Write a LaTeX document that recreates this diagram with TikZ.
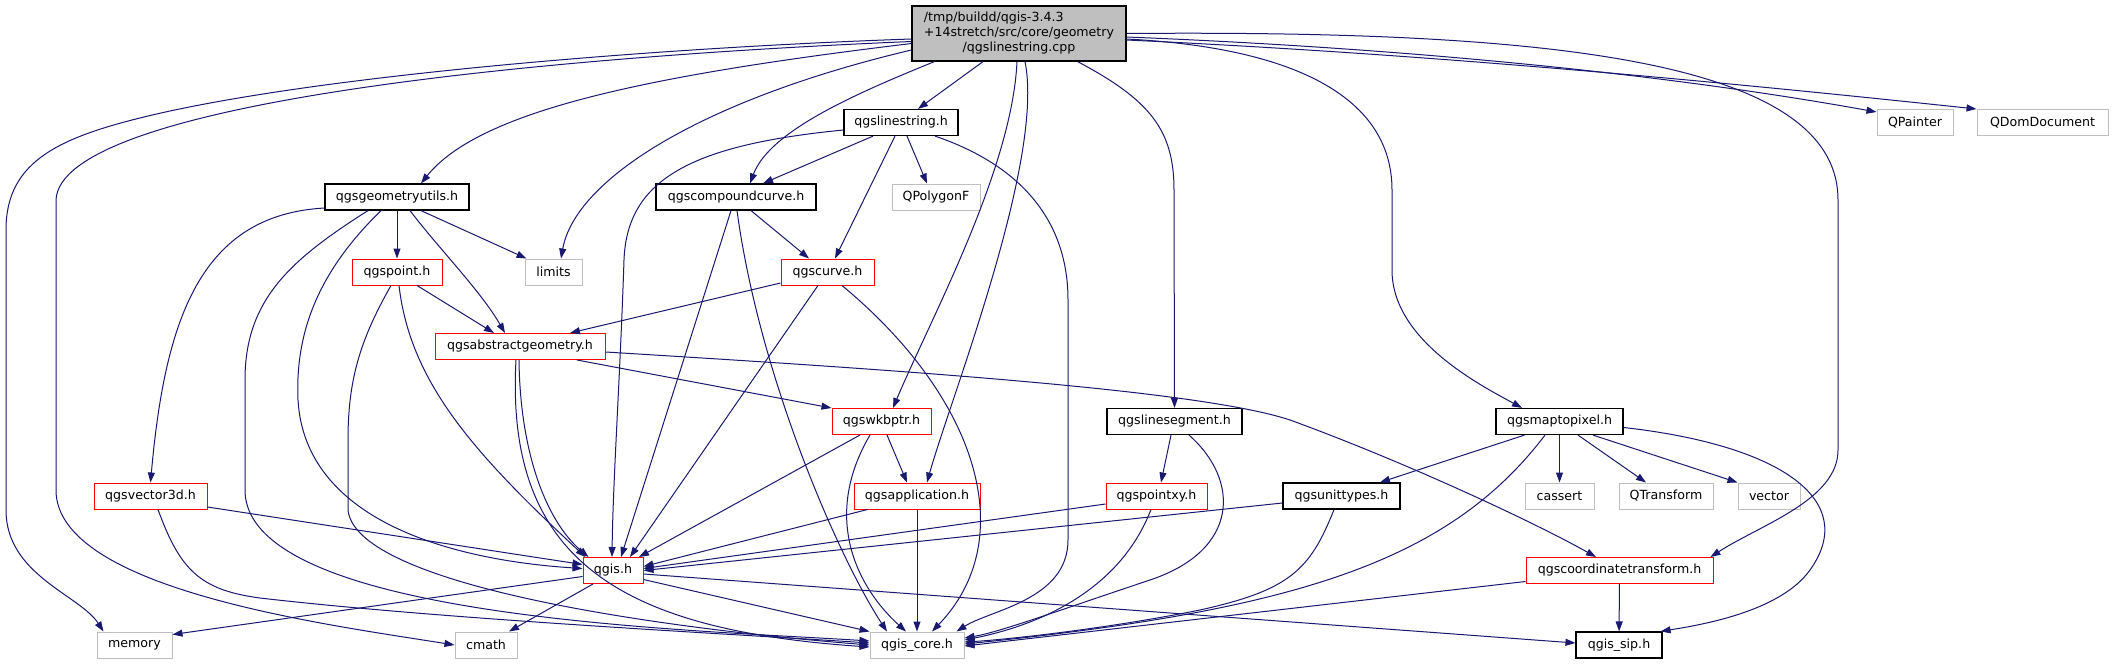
\documentclass[tikz,border=0pt]{standalone}
\usepackage{fontspec}
\setmainfont{DejaVu Sans}
\usetikzlibrary{arrows.meta}
\definecolor{edgeblue}{RGB}{25,25,112}
\definecolor{headred}{RGB}{255,0,0}
\definecolor{sysgrey}{RGB}{191,191,191}

\begin{document}
\begin{tikzpicture}[x=1pt, y=-1pt,
  box/.style={draw=black, fill=white, line width=1.2pt, minimum height=26pt,
    inner sep=0pt, font=\fontsize{12.6pt}{15pt}\selectfont},
  redbox/.style={box, draw=headred, line width=1pt},
  sysbox/.style={box, draw=sysgrey, line width=1pt},
  rootbox/.style={box, fill=sysgrey, minimum width=214pt, minimum height=55pt},
  arr/.style={-{Triangle[length=10pt,width=7pt]}, edgeblue, line width=1pt}
]
  \path[use as bounding box, fill=white] (0,0) rectangle (2113,664);

  \node[rootbox] (root) at (1019,33.5) {\begin{tabular}{@{}l@{}}/tmp/buildd/qgis-3.4.3\\+14stretch/src/core/geometry\\\multicolumn{1}{@{}c@{}}{/qgslinestring.cpp}\end{tabular}};
  \node[box, minimum width=114pt] (linestringh) at (901,122.5) {qgslinestring.h};
  \node[sysbox, minimum width=76pt] (painter) at (1915,122.5) {QPainter};
  \node[sysbox, minimum width=131pt] (domdoc) at (2042.5,122.5) {QDomDocument};
  \node[box, minimum width=144pt] (geomutils) at (397,197) {qgsgeometryutils.h};
  \node[box, minimum width=160pt] (compound) at (736,197) {qgscompoundcurve.h};
  \node[sysbox, minimum width=88pt] (polygonf) at (936,197) {QPolygonF};
  \node[redbox, minimum width=90pt] (point) at (397,272) {qgspoint.h};
  \node[sysbox, minimum width=57pt] (limits) at (553.5,272) {limits};
  \node[redbox, minimum width=93pt] (curve) at (827.5,272) {qgscurve.h};
  \node[redbox, minimum width=170pt] (abstractgeom) at (520,346.5) {qgsabstractgeometry.h};
  \node[redbox, minimum width=99pt] (wkbptr) at (881.5,421.5) {qgswkbptr.h};
  \node[box, minimum width=135pt] (linesegment) at (1174.5,421.5) {qgslinesegment.h};
  \node[box, minimum width=127pt] (maptopixel) at (1559.5,421.5) {qgsmaptopixel.h};
  \node[redbox, minimum width=113pt] (vector3d) at (150.5,496) {qgsvector3d.h};
  \node[redbox, minimum width=126pt] (application) at (917,496) {qgsapplication.h};
  \node[redbox, minimum width=101pt] (pointxy) at (1156.5,496) {qgspointxy.h};
  \node[box, minimum width=117pt] (unittypes) at (1341.5,496) {qgsunittypes.h};
  \node[sysbox, minimum width=69pt] (cassert) at (1559.5,496) {cassert};
  \node[sysbox, minimum width=94pt] (qtransform) at (1666,496) {QTransform};
  \node[sysbox, minimum width=62pt] (vectorh) at (1769,496) {vector};
  \node[redbox, minimum width=60pt] (qgish) at (613,570.5) {qgis.h};
  \node[redbox, minimum width=187pt] (coordtransform) at (1619.5,570.5) {qgscoordinatetransform.h};
  \node[sysbox, minimum width=75pt] (memory) at (134.5,645) {memory};
  \node[sysbox, minimum width=62pt] (cmath) at (486,645) {cmath};
  \node[sysbox, minimum width=94pt] (qgiscore) at (917,645) {qgis\_core.h};
  \node[box, minimum width=86pt] (qgissip) at (1619,645) {qgis\_sip.h};

  \draw[arr] ([yshift=-5.5pt]root.west) .. controls (650,48) and (330,75) .. (161,113) .. controls (60,136) and (6,160) .. (6,230) -- (6,510) .. controls (6,575) and (80,595) .. ([xshift=7pt]memory.north west);
  \draw[arr] ([yshift=-8pt]root.west) .. controls (520,58) and (60,105) .. (56,200) -- (56,490) .. controls (56,590) and (330,625) .. (cmath.west);
  \draw[arr] ([yshift=-10pt]root.west) .. controls (650,75) and (480,110) .. ([xshift=24pt]geomutils.north);
  \draw[arr] ([yshift=-16.5pt]root.west) .. controls (700,100) and (575,180) .. ([xshift=7.5pt]limits.north);
  \draw[arr] ([xshift=23pt]root.south west) .. controls (860,92) and (770,130) .. ([xshift=14pt]compound.north);
  \draw[arr] ([xshift=-36pt]root.south) -- ([xshift=17pt]linestringh.north);
  \draw[arr] ([xshift=-2pt]root.south) .. controls (1012,170) and (930,320) .. ([xshift=11.5pt]wkbptr.north);
  \draw[arr] ([xshift=6pt]root.south) .. controls (1045,160) and (950,400) .. ([xshift=10pt]application.north);
  \draw[arr] ([xshift=-49pt]root.south east) .. controls (1150,100) and (1174,130) .. (1174,190) -- (linesegment.north);
  \draw[arr] ([yshift=-5.5pt]root.east) .. controls (1300,48) and (1392,100) .. (1392,190) -- (1392,270) .. controls (1392,340) and (1480,385) .. ([xshift=-37.5pt]maptopixel.north);
  \draw[arr] (root.east) .. controls (1550,30) and (1838,60) .. (1838,200) -- (1838,450) .. controls (1838,500) and (1760,525) .. ([xshift=-3pt]coordtransform.north east);
  \draw[arr] ([yshift=-3.5pt]root.east) .. controls (1450,50) and (1700,80) .. ([yshift=-3pt]painter.north west);
  \draw[arr] ([yshift=-6.5pt]root.east) .. controls (1450,55) and (1750,85) .. (domdoc.north west);

  \draw[arr] ([xshift=-28pt]linestringh.south) -- ([xshift=27pt]compound.north);
  \draw[arr] ([yshift=-7.5pt]linestringh.west) .. controls (690,145) and (627,180) .. (624,260) .. controls (620,380) and (613,480) .. ([xshift=-1pt]qgish.north);
  \draw[arr] ([xshift=-6pt]linestringh.south) -- ([xshift=7.5pt]curve.north);
  \draw[arr] ([xshift=6pt]linestringh.south) -- ([xshift=-9pt]polygonf.north);
  \draw[arr] ([xshift=34pt]linestringh.south) .. controls (1020,165) and (1068,220) .. (1068,300) -- (1068,540) .. controls (1068,600) and (990,610) .. ([xshift=-8pt]qgiscore.north east);

  \draw[arr] ([yshift=-11pt]geomutils.west) .. controls (200,215) and (165,320) .. (vector3d.north);
  \draw[arr] ([xshift=-29pt]geomutils.south) .. controls (290,260) and (245,300) .. (245,380) -- (245,490) .. controls (245,620) and (700,630) .. ([yshift=4pt]qgiscore.west);
  \draw[arr] ([xshift=-16pt]geomutils.south) .. controls (320,270) and (295,330) .. (298,400) .. controls (305,520) and (450,560) .. ([yshift=2pt]qgish.west);
  \draw[arr] (geomutils.south) -- (point.north);
  \draw[arr] ([xshift=13pt]geomutils.south) .. controls (440,250) and (480,290) .. ([xshift=-15pt]abstractgeom.north);
  \draw[arr] ([xshift=24pt]geomutils.south) -- ([xshift=2pt]limits.north west);

  \draw[arr] ([xshift=20pt]point.south) -- ([xshift=-26pt]abstractgeom.north);
  \draw[arr] ([xshift=2pt]point.south) .. controls (410,380) and (470,450) .. ([xshift=3pt]qgish.north west);
  \draw[arr] ([xshift=-6pt]point.south) .. controls (360,340) and (348,380) .. (348,440) -- (348,510) .. controls (355,580) and (620,625) .. (qgiscore.west);

  \draw[arr] ([xshift=15pt]compound.south) -- ([xshift=-18.5pt]curve.north);
  \draw[arr] ([xshift=-5pt]compound.south) -- ([xshift=8pt]qgish.north);
  \draw[arr] ([xshift=1pt]compound.south) .. controls (760,380) and (840,560) .. ([xshift=-30pt]qgiscore.north);

  \draw[arr] ([yshift=-11pt]curve.west) -- ([xshift=50pt]abstractgeom.north);
  \draw[arr] ([xshift=-9.5pt]curve.south) -- ([xshift=17pt]qgish.north);
  \draw[arr] ([xshift=14.5pt]curve.south) .. controls (980,400) and (1020,540) .. ([xshift=15pt]qgiscore.north);

  \draw[arr] ([xshift=57pt]abstractgeom.south) -- (wkbptr.north west);
  \draw[arr] ([xshift=-1pt]abstractgeom.south) .. controls (520,450) and (545,520) .. ([xshift=6pt]qgish.north west);
  \draw[arr] ([xshift=-4pt]abstractgeom.south) .. controls (505,560) and (620,630) .. ([yshift=-2pt]qgiscore.west);
  \draw[arr] ([yshift=-5.5pt]abstractgeom.east) .. controls (900,370) and (1200,390) .. (1290,420) .. controls (1400,460) and (1530,520) .. ([xshift=-23.5pt]coordtransform.north);

  \draw[arr] ([xshift=-21.5pt]wkbptr.south) -- ([xshift=26pt]qgish.north);
  \draw[arr] ([xshift=5.5pt]wkbptr.south) -- ([xshift=-10pt]application.north);
  \draw[arr] ([xshift=-11.5pt]wkbptr.south) .. controls (820,520) and (860,590) .. ([xshift=-11pt]qgiscore.north);

  \draw[arr] ([xshift=14pt]application.south west) -- ([yshift=4pt]qgish.east);
  \draw[arr] (application) -- (qgiscore);

  \draw[arr] ([xshift=-3.5pt]linesegment.south) -- ([xshift=4.5pt]pointxy.north);
  \draw[arr] ([xshift=14.5pt]linesegment.south) .. controls (1240,480) and (1240,550) .. (1150,580) .. controls (1060,610) and (1000,632) .. ([yshift=7pt]qgiscore.east);

  \draw[arr] ([yshift=-8pt]pointxy.west) -- ([yshift=2pt]qgish.east);
  \draw[arr] ([xshift=-5.5pt]pointxy.south) .. controls (1120,590) and (1040,625) .. ([yshift=5pt]qgiscore.east);

  \draw[arr] ([yshift=-7pt]unittypes.west) -- (qgish.east);
  \draw[arr] ([xshift=-7.5pt]unittypes.south) .. controls (1310,570) and (1290,590) .. (1200,610) .. controls (1100,630) and (1000,640) .. ([yshift=3pt]qgiscore.east);

  \draw[arr] ([xshift=29pt]maptopixel.south west) -- ([xshift=38.5pt]unittypes.north);
  \draw[arr] ([xshift=-14.5pt]maptopixel.south) .. controls (1450,560) and (1300,610) .. ([yshift=1pt]qgiscore.east);
  \draw[arr] (maptopixel) -- (cassert);
  \draw[arr] ([xshift=18.5pt]maptopixel.south) -- ([xshift=-20pt]qtransform.north);
  \draw[arr] ([xshift=33.5pt]maptopixel.south) -- (vectorh.north west);
  \draw[arr] ([yshift=-6pt]maptopixel.east) .. controls (1780,445) and (1860,500) .. (1810,570) .. controls (1780,612) and (1700,625) .. ([xshift=-2pt]qgissip.north east);

  \draw[arr] ([yshift=-11pt]coordtransform.west) -- ([yshift=-1pt]qgiscore.east);
  \draw[arr] (coordtransform) -- (qgissip);

  \draw[arr] ([yshift=-6pt]qgish.west) -- ([yshift=-3pt]memory.north east);
  \draw[arr] ([xshift=-20pt]qgish.south) -- ([xshift=23pt]cmath.north);
  \draw[arr] ([yshift=-9pt]qgish.east) -- (qgiscore.north west);
  \draw[arr] ([yshift=-3.5pt]qgish.east) -- ([yshift=2pt]qgissip.west);

  \draw[arr] ([yshift=-11pt]vector3d.east) -- ([yshift=6pt]qgish.west);
  \draw[arr] ([xshift=7.5pt]vector3d.south) .. controls (180,570) and (200,590) .. (260,598) .. controls (450,620) and (750,635) .. ([yshift=2pt]qgiscore.west);
\end{tikzpicture}
\end{document}
